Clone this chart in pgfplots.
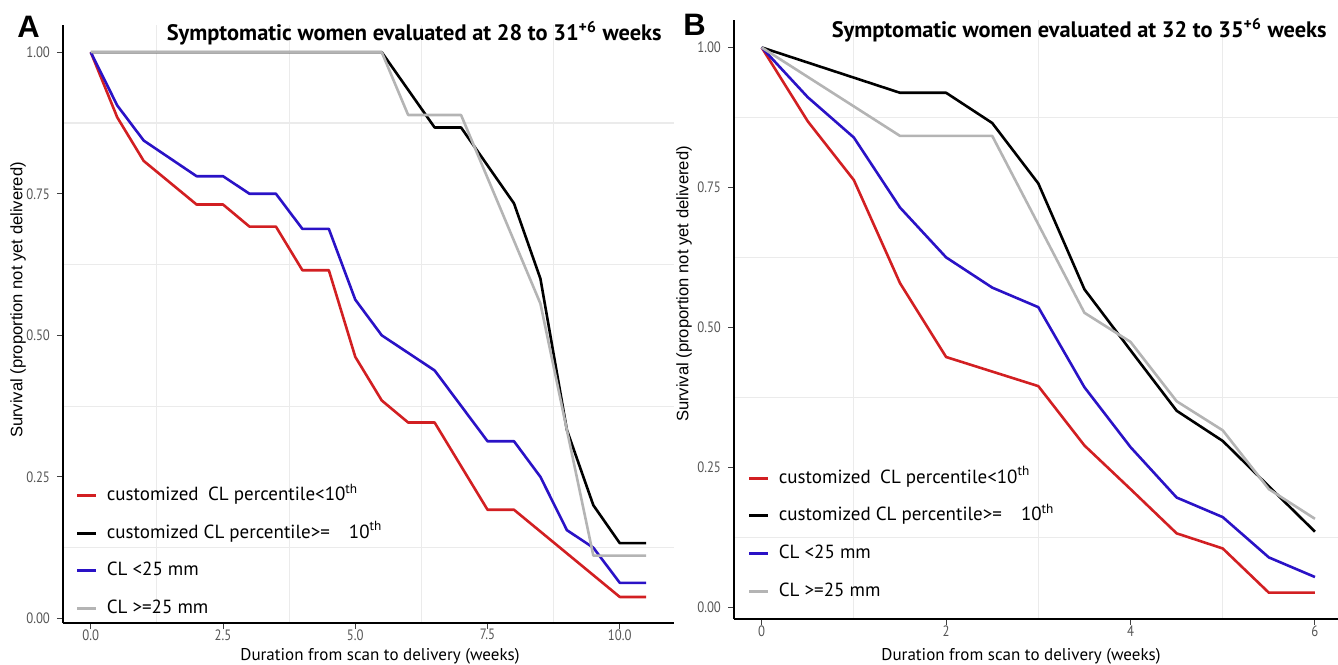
\documentclass[border=0pt]{standalone}
\usepackage{fontspec}
\setmainfont{PT Sans}
\newfontfamily\arialfont{Liberation Sans}
\newfontfamily\condfont[FakeStretch=0.85]{PT Sans}
\usepackage{pgfplots}
\pgfplotsset{compat=1.18}

\definecolor{cred}{HTML}{D21F22}
\definecolor{cblue}{HTML}{2A12C6}
\definecolor{cgray}{HTML}{B4B4B4}
\definecolor{gridc}{HTML}{EBEBEB}
\definecolor{ticklab}{HTML}{555555}

\pgfplotsset{
  km/.style={
    scale only axis,
    axis x line*=bottom, axis y line*=left,
    axis line style={black, line width=1pt},
    tick style={black!75, line width=0.5pt},
    major tick length=3pt, minor tick length=0pt,
    tick align=outside,
    ticklabel style={font=\condfont\fontsize{7.5}{8}\selectfont, text=ticklab},
    x tick label style={inner sep=1pt, yshift=1pt},
    /pgf/number format/assume math mode=true,
    grid=minor, minor grid style={gridc, line width=0.6pt},
    ytick={0,0.25,0.5,0.75,1},
    minor ytick={0.125,0.375,0.625,0.875},
    y tick label style={/pgf/number format/fixed, /pgf/number format/fixed zerofill,
      /pgf/number format/precision=2},
    every axis plot/.append style={line width=1.3pt, line join=round},
    legend cell align=left,
    legend image code/.code={\draw[#1, line width=1.5pt] (0pt,0pt) -- (9.5pt,0pt);},
    legend style={draw=none, fill=none, anchor=north west, inner sep=0pt, outer sep=0pt,
      font=\fontsize{9.5}{10}\selectfont, row sep=9.8pt,
      nodes={inner sep=0pt, text height=7pt, text depth=2pt},
      /tikz/every odd column/.append style={column sep=4.5pt}},
  }
}

\begin{document}
\begin{tikzpicture}
\path[use as bounding box] (0,0) rectangle (669pt,-332pt);

% panel A
\begin{axis}[km, at={(31.5pt,-311.5pt)}, anchor=south west,
  width=305.5pt, height=299pt,
  xmin=-0.525, xmax=11.025, ymin=-0.008, ymax=1.048,
  xtick={0,2.5,5,7.5,10}, minor xtick={1.25,3.75,6.25,8.75},
  x tick label style={/pgf/number format/fixed, /pgf/number format/fixed zerofill,
    /pgf/number format/precision=1},
  legend style={at={(axis description cs:0.021,0.228)}}]
\addplot[cred] coordinates {(0,1)(0.5,0.885)(1,0.808)(2,0.731)(2.5,0.731)(3,0.692)(3.5,0.692)(4,0.615)(4.5,0.615)(5,0.462)(5.5,0.385)(6,0.346)(6.5,0.346)(7.5,0.192)(8,0.192)(10,0.038)(10.5,0.038)};
\addplot[black] coordinates {(0,1)(5.5,1)(6.5,0.867)(7,0.867)(8,0.733)(8.5,0.6)(9,0.333)(9.5,0.2)(10,0.133)(10.5,0.133)};
\addplot[cblue] coordinates {(0,1)(0.5,0.906)(1,0.844)(2,0.781)(2.5,0.781)(3,0.75)(3.5,0.75)(4,0.688)(4.5,0.688)(5,0.563)(5.5,0.5)(6.5,0.438)(7.5,0.313)(8,0.313)(8.5,0.25)(9,0.156)(9.5,0.125)(10,0.063)(10.5,0.063)};
\addplot[cgray] coordinates {(0,1)(5.5,1)(6,0.889)(7,0.889)(8.5,0.556)(9,0.333)(9.5,0.111)(10.5,0.111)};
\addlegendentry{customized\enspace CL percentile<10\textsuperscript{th}}
\addlegendentry{customized CL percentile>=\quad 10\textsuperscript{th}}
\addlegendentry{CL <25 mm}
\addlegendentry{CL >=25 mm}
\end{axis}

% panel B
\begin{axis}[km, at={(367pt,-309.5pt)}, anchor=south west,
  width=302pt, height=299.5pt,
  xmin=-0.3, xmax=6.25, ymin=-0.021, ymax=1.049,
  xtick={0,2,4,6}, minor xtick={1,3,5},
  legend style={at={(axis description cs:0.023,0.25)}}]
\addplot[cred] coordinates {(0,1)(0.5,0.868)(1,0.763)(1.5,0.579)(2,0.447)(3,0.395)(3.5,0.289)(4,0.211)(4.5,0.132)(5,0.105)(5.5,0.026)(6,0.026)};
\addplot[black] coordinates {(0,1)(1.5,0.919)(2,0.919)(2.5,0.865)(3,0.757)(3.5,0.568)(4,0.459)(4.5,0.351)(5,0.297)(5.5,0.216)(6,0.135)};
\addplot[cblue] coordinates {(0,1)(0.5,0.911)(1,0.839)(1.5,0.714)(2,0.625)(2.5,0.571)(3,0.536)(3.5,0.393)(4,0.286)(4.5,0.196)(5,0.161)(5.5,0.089)(6,0.054)};
\addplot[cgray] coordinates {(0,1)(1.5,0.842)(2.5,0.842)(3,0.684)(3.5,0.526)(4,0.474)(4.5,0.368)(5,0.316)(5.5,0.211)(6,0.158)};
\addlegendentry{customized\enspace CL percentile<10\textsuperscript{th}}
\addlegendentry{customized CL percentile>=\quad 10\textsuperscript{th}}
\addlegendentry{CL <25 mm}
\addlegendentry{CL >=25 mm}
\end{axis}

% panel letters and titles
\node[anchor=base west, inner sep=0pt, font=\arialfont\bfseries\fontsize{15.5}{16}\selectfont] at (8.5pt,-18.5pt) {A};
\node[anchor=base west, inner sep=0pt, font=\arialfont\bfseries\fontsize{15.5}{16}\selectfont] at (341.5pt,-17.5pt) {B};
\node[anchor=base east, inner sep=0pt, font=\bfseries\fontsize{11.2}{12}\selectfont] at (331pt,-20pt) {Symptomatic women evaluated at 28 to 31\textsuperscript{+6} weeks};
\node[anchor=base east, inner sep=0pt, font=\bfseries\fontsize{11.2}{12}\selectfont] at (663.5pt,-18.5pt) {Symptomatic women evaluated at 32 to 35\textsuperscript{+6} weeks};

% axis titles
\node[rotate=90, inner sep=0pt, font=\arialfont\fontsize{8.3}{9}\selectfont] at (9pt,-150pt) {Survival (proportion not yet delivered)};
\node[rotate=90, inner sep=0pt, font=\arialfont\fontsize{8.3}{9}\selectfont] at (342pt,-142pt) {Survival (proportion not yet delivered)};
\node[anchor=base, inner sep=0pt, font=\fontsize{8.5}{9}\selectfont] at (190pt,-330pt) {Duration from scan to delivery (weeks)};
\node[anchor=base, inner sep=0pt, font=\fontsize{8.5}{9}\selectfont] at (510.5pt,-330pt) {Duration from scan to delivery (weeks)};
\end{tikzpicture}
\end{document}
